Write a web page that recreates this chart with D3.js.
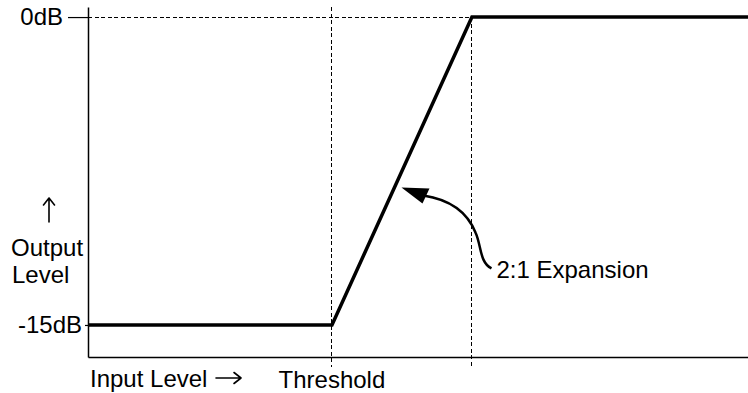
<!DOCTYPE html>
<html>
<head>
<meta charset="utf-8">
<script src="https://cdn.jsdelivr.net/npm/d3@7"></script>
<style>
    body { margin: 0; background: #fff; }
    svg { display: block; font-family: "Liberation Sans", Arial, Helvetica, sans-serif; }
    .dashed { stroke: #000; stroke-width: 1; stroke-dasharray: 4, 2.5; fill: none; shape-rendering: crispEdges; }
    .pointer { stroke: #000; stroke-width: 1.6; fill: none; stroke-linecap: round; stroke-linejoin: round; }
</style>
</head>
<body>
<div id="chart"></div>
<script>
// input level (dB) and output level (dB) along the transfer curve
const inputDb = [-43.07, -30, -22.5, -7.71];
const outputDb = [-15, -15, 0, 0];
const thresholdDb = -30;
const kneeDb = -22.5;
const yTickValues = [0, -15];
const yTickLabels = ["0dB", "-15dB"];
const annotationLabel = "2:1 Expansion";
// point on the slope that the arrow points at
const annotationOutDb = -8.3;

class TransferChart {
    constructor(containerId) {
	this.width = 748;
	this.height = 393;
	this.fontSize = 24;
	this.svg = d3.select(`#${containerId}`).append("svg")
	    .attr("width", this.width)
	    .attr("height", this.height);
	this.xScale = d3.scaleLinear()
	    .domain([inputDb[0], inputDb[inputDb.length - 1]])
	    .range([88, 748]);
	this.yScale = d3.scaleLinear()
	    .domain([-16.56, 0.49])
	    .range([357, 7]);
    }

    draw() {
	const x = this.xScale, y = this.yScale;
	const x0 = x.range()[0], yBottom = y.range()[0], yTop = y.range()[1];

	// guide lines
	this.svg.append("line").attr("class", "dashed")
	    .attr("x1", x0).attr("x2", x(kneeDb))
	    .attr("y1", y(0)).attr("y2", y(0));
	this.svg.append("line").attr("class", "dashed")
	    .attr("x1", x(thresholdDb)).attr("x2", x(thresholdDb))
	    .attr("y1", yTop).attr("y2", yBottom + 10);
	this.svg.append("line").attr("class", "dashed")
	    .attr("x1", x(kneeDb)).attr("x2", x(kneeDb))
	    .attr("y1", y(0)).attr("y2", yBottom + 10);

	// axes
	const yAxis = this.svg.append("g")
	    .attr("transform", `translate(${x0},0)`)
	    .call(d3.axisLeft(y).tickValues(yTickValues)
		  .tickFormat((d, i) => yTickLabels[i])
		  .tickSize(20).tickSizeOuter(0));
	yAxis.select(".domain").attr("stroke-width", 1.5);
	yAxis.selectAll(".tick line").attr("stroke-width", 1.2)
	    .attr("x2", d => d === 0 ? -20 : -3);
	yAxis.selectAll(".tick text")
	    .attr("font-size", this.fontSize)
	    .attr("font-family", null)
	    .attr("fill", "#000")
	    .attr("x", d => d === 0 ? -25 : -6);

	const xAxis = this.svg.append("g")
	    .attr("transform", `translate(0,${yBottom})`)
	    .call(d3.axisBottom(x).tickValues([]).tickSizeOuter(0));
	xAxis.select(".domain").attr("stroke-width", 1.5);

	// transfer curve
	const line = d3.line()
	    .x(d => x(d[0]))
	    .y(d => y(d[1]));
	this.svg.append("path")
	    .datum(d3.zip(inputDb, outputDb))
	    .attr("d", line)
	    .attr("fill", "none")
	    .attr("stroke", "#000")
	    .attr("stroke-width", 3.5)
	    .attr("stroke-linejoin", "miter");

	// annotation arrow
	const slopeIn = thresholdDb + (annotationOutDb - outputDb[1]) / 2;
	const tx = x(slopeIn) + 7, ty = y(annotationOutDb);
	const p = d3.path();
	p.moveTo(tx + 90, ty + 81);
	p.bezierCurveTo(tx + 78, ty + 75, tx + 80, ty + 58, tx + 74, ty + 45);
	p.bezierCurveTo(tx + 66, ty + 25, tx + 48, ty + 12, tx + 22, ty + 8);
	this.svg.append("path")
	    .attr("d", p.toString())
	    .attr("fill", "none")
	    .attr("stroke", "#000")
	    .attr("stroke-width", 2.5);
	this.svg.append("path")
	    .attr("d", `M${tx},${ty}L${tx + 21},${ty + 16}L${tx + 28},${ty + 1}Z`)
	    .attr("fill", "#000");

	// labels
	const label = (text, lx, ly, anchor) => this.svg.append("text")
	    .attr("x", lx).attr("y", ly)
	    .attr("font-size", this.fontSize)
	    .attr("text-anchor", anchor || "start")
	    .text(text);
	label(annotationLabel, tx + 95, ty + 91);
	label("Output", 11, 256);
	label("Level", 12, 283);
	label("Input Level", 90, 387);
	label("Threshold", x(thresholdDb), 388, "middle");

	// small pointer arrows next to the axis titles
	this.svg.append("path").attr("class", "pointer")
	    .attr("d", "M49,222V198M43.5,205L49,198L54.5,205");
	this.svg.append("path").attr("class", "pointer")
	    .attr("d", "M216,378H241M234,372.5L241,378L234,383.5");
    }
}

const chart = new TransferChart("chart");
chart.draw();
</script>
</body>
</html>
